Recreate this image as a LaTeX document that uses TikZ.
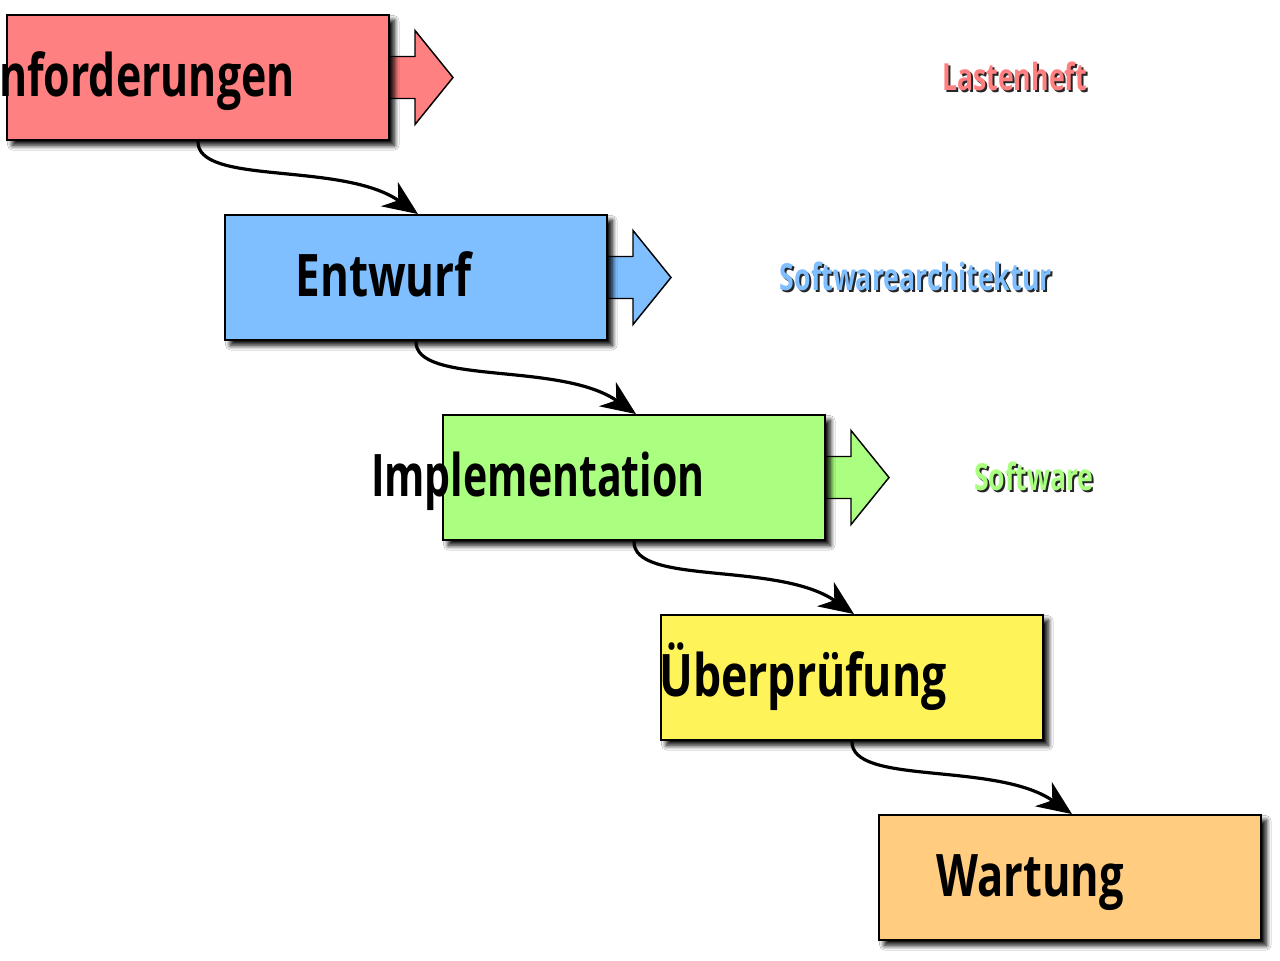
\documentclass[tikz,border=0pt]{standalone}
\usepackage{fontspec}
\setsansfont{Open Sans}
\usepackage{tikz}
\usetikzlibrary{arrows.meta,shadows.blur}

\definecolor{anfcol}{HTML}{FF8080}
\definecolor{entcol}{HTML}{80BFFF}
\definecolor{impcol}{HTML}{AAFF80}
\definecolor{prfcol}{HTML}{FFF35A}
\definecolor{wrtcol}{HTML}{FFCC80}
\newcommand{\phasefont}{\sffamily\bfseries\fontsize{44}{44}\selectfont}
\newcommand{\docfont}{\sffamily\bfseries\fontsize{28}{28}\selectfont}
\newcommand{\cond}[2][0.715]{\scalebox{#1}[1]{#2}}

\begin{document}
\begin{tikzpicture}[x=0.75pt,y=-0.75pt,
  phase/.style={draw=black, line width=1.4pt, minimum width=286.5pt, minimum height=93.75pt, inner sep=0pt,
    blur shadow={shadow xshift=4pt, shadow yshift=-4pt, shadow blur radius=3.5pt, shadow opacity=100, shadow blur steps=12}},
  outarrow/.style={draw=black, line width=1.1pt, line join=miter},
  flow/.style={line width=2.4pt, -{Stealth[length=26pt,width=22pt,inset=8pt]}},
  phasetext/.style={anchor=base east, inner sep=0pt, font=\phasefont},
  doclabel/.style={anchor=base east, inner sep=0pt, font=\docfont}]
\useasboundingbox (0,0) rectangle (1280,960);
\fill[white] (0,0) rectangle (1280,960);

% phases with their output arrows
\foreach \i/\name/\col/\txt/\tx/\sc in {0/anf/anfcol/Anforderungen/295/0.73, 1/entw/entcol/Entwurf/472/0.75,
    2/impl/impcol/Implementation/705/0.70, 3/pruef/prfcol/Überprüfung/947/0.76, 4/wart/wrtcol/Wartung/1124/0.74} {
  \pgfmathsetmacro{\cx}{198+218*\i}
  \pgfmathsetmacro{\cy}{77.5+200*\i}
  \ifnum\i<3
    \draw[outarrow, fill=\col] (\cx+185,\cy-21) -- (\cx+217,\cy-21) -- (\cx+217,\cy-47) -- (\cx+255,\cy)
      -- (\cx+217,\cy+47) -- (\cx+217,\cy+21) -- (\cx+185,\cy+21) -- cycle;
  \fi
  \node[phase, fill=\col] (\name) at (\cx,\cy) {};
  \node[phasetext] (\name txt) at (\tx,\cy+19) {\cond[\sc]{\txt}};
}

% flow between phases
\foreach \a/\b in {anf/entw, entw/impl, impl/pruef, pruef/wart}
  \draw[flow] (\a.south) .. controls +(-2,45) and +(-76,-53) .. ([xshift=1.5pt]\b.north);

% results
\foreach \name/\col/\txt/\tx/\ty in {lasten/anfcol/Lastenheft/1087/90,
    arch/entcol/Softwarearchitektur/1052/290, soft/impcol/Software/1094/490} {
  \node[doclabel, text=black!85] (\name shd) at (\tx+2,\ty+2) {\cond{\txt}};
  \node[doclabel, text=\col] (\name) at (\tx,\ty) {\cond{\txt}};
}
\end{tikzpicture}
\end{document}
